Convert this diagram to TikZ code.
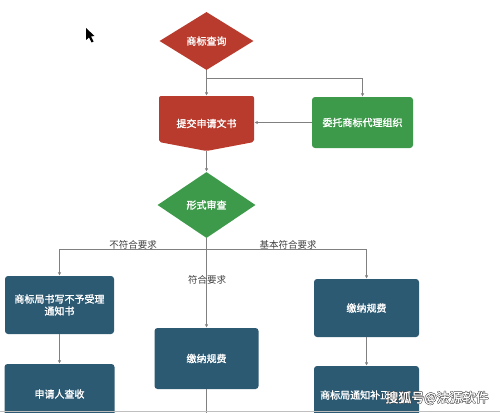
\documentclass[tikz,border=0pt]{standalone}
\usepackage{fontspec}
\setmainfont{Noto Sans CJK SC}[AutoFakeBold=1.5]
\usetikzlibrary{arrows.meta,shapes.geometric}

\definecolor{tmred}{HTML}{B83B2D}
\definecolor{tmgreen}{HTML}{3E9A4B}
\definecolor{tmblue}{HTML}{2D5A73}

\begin{document}
\begin{tikzpicture}[
    x=1pt, y=-1pt,
    txt/.style={text=white, font=\bfseries\fontsize{10}{12}\selectfont, align=center, inner sep=0pt},
    box/.style={txt, fill=tmblue, rounded corners=3pt, minimum width=105pt, minimum height=58pt},
    dia/.style={txt, diamond, inner sep=0pt},
    lbl/.style={text=black!75, font=\fontsize{9.5}{11}\selectfont, inner sep=1pt},
    line/.style={draw=black!50, line width=0.8pt},
    >={Latex[length=3.5pt,width=3.5pt]}
]
\useasboundingbox (0,0) rectangle (500,412);
\clip (0,0) rectangle (500,412);

% top part
\node[dia, fill=tmred, minimum width=94pt, minimum height=58pt] (query) at (206.5,41) {商标查询};

\fill[tmred, rounded corners=2pt] (159,96) -- (254,96) -- (254,142) -- (206.5,151) -- (159,142) -- cycle;
\node[txt, minimum width=95pt, minimum height=55pt] (submit) at (206.5,123.5) {提交申请文书};

\node[box, fill=tmgreen, minimum width=101pt, minimum height=51pt] (agent) at (362.5,122.5) {委托商标代理组织};

\node[dia, fill=tmgreen, minimum width=98pt, minimum height=66pt] (check) at (206.5,205) {形式审查};

% lower boxes
\node[box, minimum width=109pt] (reject) at (59.5,305) {商标局书写不予受理\\通知书};
\node[box, minimum width=110pt, minimum height=60pt] (receive) at (59.5,394) {申请人查收};
\node[box, minimum width=104pt, minimum height=61pt] (fee) at (206.5,358.5) {缴纳规费};
\node[box] (feer) at (366.5,308) {缴纳规费};
\node[box, minimum height=60pt] (amend) at (366.5,396) {};
\node[txt, anchor=west] (amendtxt) at (320,395) {商标局通知补正};

\coordinate (b1) at (206.5,78);
\coordinate (b2) at (206.5,249);

\draw[line, ->] (query.south) -- (submit.north);
\draw[line, ->] (b1) -| (agent.north);
\draw[line, ->] (agent.west) -- (agent.west -| submit.east);
\draw[line, ->] (submit.south) -- (check.north);

\draw[line, ->] (b2) -| (reject.north);
\draw[line, ->] (b2) -| (feer.north);
\draw[line, ->] (check.south) -- (fee.north);

\draw[line, ->] (reject.south) -- (receive.north);
\draw[line, ->] (feer.south) -- (amend.north);
\draw[line] (fee.south) -- ++(0,30);

\node[lbl] (nopass) at (133,245) {不符合要求};
\node[lbl] (pass) at (207,280) {符合要求};
\node[lbl] (basic) at (288,245) {基本符合要求};

% screenshot leftovers
\draw[black!25] (0,411) -- (500,411);
\fill[black] (86,28) -- (86,40) -- (89,37.5) -- (91.5,42.5) -- (93.5,41.5) -- (91,36.5) -- (94.5,36) -- cycle;
\foreach \dx/\dy in {-0.5/0, 0.5/0, 0/-0.5, 0/0.5}
    \node[font=\bfseries\fontsize{13}{14}\selectfont, text=black!75] at (437+\dx,398+\dy) {搜狐号@法源软件};
\node[font=\bfseries\fontsize{13}{14}\selectfont, text=white] (mark) at (437,398) {搜狐号@法源软件};

\end{tikzpicture}
\end{document}
